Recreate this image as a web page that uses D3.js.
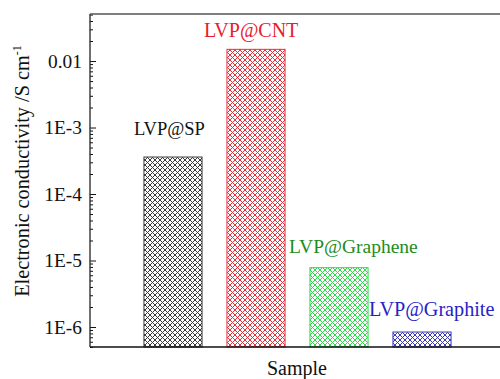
<!DOCTYPE html>
<html>
<head>
<meta charset="utf-8">
<script src="https://cdn.jsdelivr.net/npm/d3@7"></script>
<style>
  body { margin: 0; background: #fff; }
</style>
</head>
<body>
<svg id="chart" width="500" height="379"></svg>
<script>
// data
const samples = ["LVP@SP", "LVP@CNT", "LVP@Graphene", "LVP@Graphite"];
const conductivity = [3.6e-4, 1.5e-2, 7.8e-6, 8.4e-7];
const colors = ["#3a3a3a", "#e8303c", "#2ed84a", "#3a3ab8"];
const labelColors = ["#111111", "#e8202a", "#1c8c22", "#2424c8"];
const yTickValues = [1e-6, 1e-5, 1e-4, 1e-3, 1e-2];
const yTickLabels = ["1E-6", "1E-5", "1E-4", "1E-3", "0.01"];

const margin = {top: 14, right: -5, bottom: 32, left: 90};
const width = 500, height = 379;
const serif = "'Liberation Serif', 'Times New Roman', serif";

const svg = d3.select("#chart").attr("font-family", serif);

const x = d3.scaleLinear().domain([0, samples.length + 1]).range([margin.left, width - margin.right]);
const y = d3.scaleLog().domain([5e-7, 0.051]).range([height - margin.bottom, margin.top]);
const barW = 0.7 * (x(1) - x(0));

// crosshatch patterns
const defs = svg.append("defs");
colors.forEach((c, i) => {
  const p = defs.append("pattern")
    .attr("id", "hatch" + i)
    .attr("patternUnits", "userSpaceOnUse")
    .attr("width", 5).attr("height", 5);
  p.append("path").attr("d", "M-1,1 l2,-2 M0,5 l5,-5 M4,6 l2,-2")
    .attr("stroke", c).attr("stroke-width", 1);
  p.append("path").attr("d", "M-1,4 l2,2 M0,0 l5,5 M4,-1 l2,2")
    .attr("stroke", c).attr("stroke-width", 1);
});

// bars
svg.append("g").selectAll("rect")
  .data(samples)
  .join("rect")
    .attr("x", (d, i) => x(i + 1) - barW / 2)
    .attr("y", (d, i) => y(conductivity[i]))
    .attr("width", barW)
    .attr("height", (d, i) => y.range()[0] - y(conductivity[i]))
    .attr("fill", (d, i) => `url(#hatch${i})`)
    .attr("stroke", (d, i) => colors[i])
    .attr("stroke-width", 1);

// bar labels, offset from each bar's top-left corner
const labelPos = [
  {dx: -10, dy: -22, size: 18.5},
  {dx: -23, dy: -12, size: 20},
  {dx: -21, dy: -15, size: 19.5},
  {dx: -24, dy: -16, size: 20.2},
];
svg.append("g").selectAll("text")
  .data(samples)
  .join("text")
    .attr("x", (d, i) => x(i + 1) - barW / 2 + labelPos[i].dx)
    .attr("y", (d, i) => y(conductivity[i]) + labelPos[i].dy)
    .attr("font-size", (d, i) => labelPos[i].size)
    .attr("fill", (d, i) => labelColors[i])
    .text(d => d);

// y axis with minor ticks
const minorTicks = y.ticks().filter(v => !yTickValues.includes(v));
const yAxisMinor = d3.axisRight(y).tickValues(minorTicks).tickSize(3).tickFormat("");
const gMinor = svg.append("g").attr("transform", `translate(${margin.left},0)`).call(yAxisMinor);
gMinor.select(".domain").remove();
gMinor.selectAll(".tick line").attr("stroke", "#111");

const yAxis = d3.axisLeft(y).tickValues(yTickValues).tickSize(0).tickPadding(8)
  .tickFormat((d, i) => yTickLabels[i]);
const gy = svg.append("g").attr("transform", `translate(${margin.left},0)`).call(yAxis);
gy.attr("font-family", serif).attr("font-size", 19.4);
gy.select(".domain").remove();
gy.selectAll(".tick text").attr("fill", "#111");
gy.selectAll(".tick").append("line").attr("x1", 0).attr("x2", 6).attr("stroke", "#111");

// frame
svg.append("line").attr("x1", margin.left).attr("x2", margin.left)
  .attr("y1", margin.top).attr("y2", y.range()[0]).attr("stroke", "#222").attr("stroke-width", 1.3);
svg.append("line").attr("x1", margin.left).attr("x2", width)
  .attr("y1", margin.top).attr("y2", margin.top).attr("stroke", "#555").attr("stroke-width", 1.3);
svg.append("line").attr("x1", margin.left).attr("x2", width)
  .attr("y1", y.range()[0]).attr("y2", y.range()[0]).attr("stroke", "#111").attr("stroke-width", 1.3);

// axis titles
svg.append("text")
  .attr("x", 297).attr("y", 375)
  .attr("text-anchor", "middle").attr("font-size", 20).attr("fill", "#111")
  .text("Sample");

const yTitle = svg.append("text")
  .attr("transform", "translate(29,171) rotate(-90)")
  .attr("text-anchor", "middle").attr("font-size", 20.3).attr("fill", "#111");
yTitle.append("tspan").text("Electronic conductivity /S cm");
yTitle.append("tspan").attr("dy", -8).attr("font-size", 12).text("-1");
</script>
</body>
</html>
